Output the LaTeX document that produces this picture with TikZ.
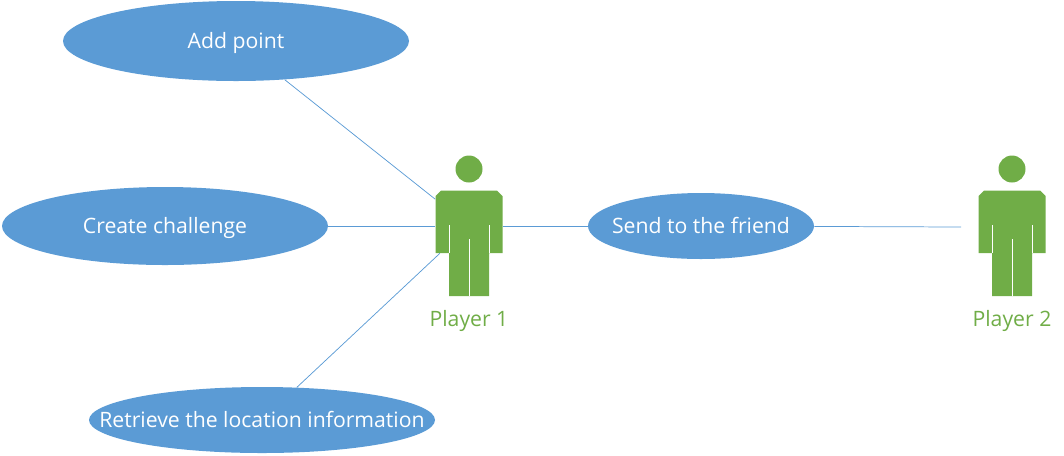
\documentclass[tikz,border=0pt]{standalone}
\usepackage{fontspec}
\setmainfont{Open Sans}
\usetikzlibrary{shapes.geometric}
\definecolor{usecaseblue}{HTML}{5B9BD5}
\definecolor{playergreen}{HTML}{70AD47}
\tikzset{
  usecase/.style={ellipse,fill=usecaseblue,text=white,inner sep=0pt,text height=12pt,text depth=1.5pt,font=\fontsize{15.9}{18}\selectfont},
  link/.style={draw=usecaseblue,line width=0.55pt},
  playerbox/.style={minimum width=50.25pt,minimum height=40.5pt,inner sep=0pt},
  playername/.style={text=playergreen,text height=12pt,text depth=1.5pt,font=\fontsize{15.9}{18}\selectfont},
}
\begin{document}
\begin{tikzpicture}[x=0.75pt,y=-0.75pt]
\useasboundingbox (0,0) rectangle (1064,455);
% use cases
\node[usecase,minimum width=259.5pt,minimum height=60pt] (addpoint) at (236,41) {\makebox[0pt]{Add point}};
\node[usecase,minimum width=244.5pt,minimum height=58.5pt] (challenge) at (165,226) {\makebox[0pt]{Create challenge}};
\node[usecase,minimum width=259.5pt,minimum height=49.5pt] (location) at (262,420) {\makebox[0pt]{Retrieve the location information}};
\node[usecase,minimum width=169.5pt,minimum height=49.5pt] (friend) at (701,226) {\makebox[0pt]{Send to the friend}};
% players
\foreach \n/\x in {1/469,2/1012}{
  \fill[playergreen] (\x,169) circle (13.5);
  \fill[playergreen] (\x-28,190.5) -- (\x+28,190.5) -- (\x+33.5,196) -- (\x+33.5,253) -- (\x+20,253)
    -- (\x+20,296) -- (\x-20,296) -- (\x-20,253) -- (\x-33.5,253) -- (\x-33.5,196) -- cycle;
  \draw[white,line width=0.7pt] (\x-20,225) -- (\x-20,253);
  \draw[white,line width=0.7pt] (\x+20,225) -- (\x+20,253);
  \draw[white,line width=0.7pt] (\x,239) -- (\x,296);
  \node[playerbox] (player\n) at (\x,226) {};
  \node[playername] (name\n) at (\x,319) {Player \n};
}
\coordinate (end2) at (961,227);
% links
\draw[link] (addpoint) -- (player1);
\draw[link] (challenge) -- (player1);
\draw[link] (location) -- (player1);
\draw[link] (player1) -- (friend);
\draw[link] (friend) -- (end2);
\end{tikzpicture}
\end{document}
